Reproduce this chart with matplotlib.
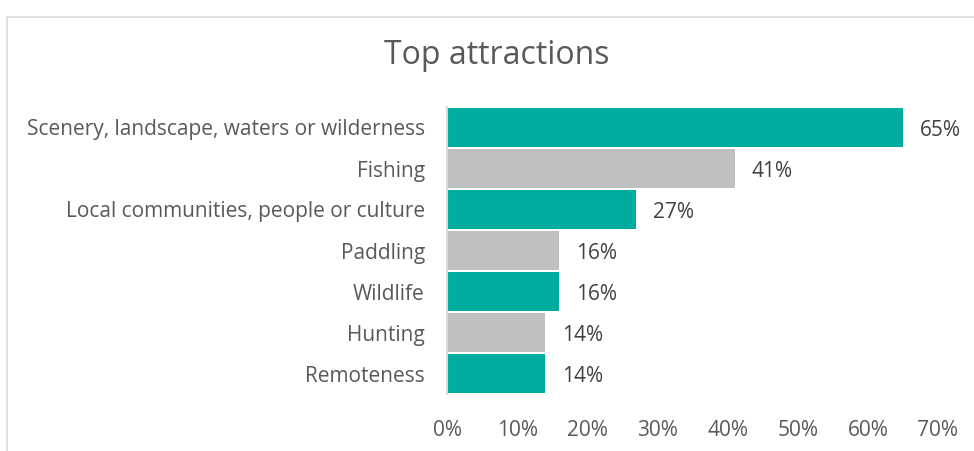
import matplotlib
matplotlib.use("Agg")
import matplotlib.pyplot as plt
from matplotlib.patches import Rectangle

categories = ["Scenery, landscape, waters or wilderness", "Fishing",
              "Local communities, people or culture", "Paddling",
              "Wildlife", "Hunting", "Remoteness"]
values = [65, 41, 27, 16, 16, 14, 14]
colors = ["#00AB9F", "#BFBFBF", "#00AB9F", "#BFBFBF", "#00AB9F", "#BFBFBF", "#00AB9F"]
xticks = [0, 10, 20, 30, 40, 50, 60, 70]
title = "Top attractions"

plt.rcParams['font.family'] = ['Open Sans', 'DejaVu Sans']

W, H = 974, 451
fig = plt.figure(figsize=(W / 100, H / 100), dpi=100)
ax = fig.add_axes([447 / W, 1 - 394 / H, (938 - 447) / W, (394 - 107) / H])

y = list(range(len(categories)))
ax.barh(y, values, height=0.93, color=colors, zorder=2)
ax.set_ylim(len(categories) - 0.5, -0.5)
ax.set_xlim(0, 70)
ax.set_yticks(y)
ax.set_yticklabels(categories, fontsize=15, color="#595959")
ax.set_xticks(xticks)
ax.set_xticklabels([f"{t}%" for t in xticks], fontsize=15, color="#595959")
ax.tick_params(axis="y", length=0, pad=16)
ax.tick_params(axis="x", length=0, pad=19)
for s in ["top", "right", "bottom"]:
    ax.spines[s].set_visible(False)
ax.spines["left"].set_color("#D9D9D9")
ax.spines["left"].set_linewidth(1.5)

for yi, v in zip(y, values):
    ax.annotate(f"{v}%", (v, yi), xytext=(12, -2.5), textcoords="offset points",
                va="center", ha="left", fontsize=15, color="#404040")

fig.text(497 / W, 1 - 56 / H, title, ha="center", va="center", fontsize=23, color="#595959")

fig.patches.append(Rectangle((7 / W, -0.05), 1.1, 1 - 17 / H + 0.05, transform=fig.transFigure,
                             fill=False, edgecolor="#D9D9D9", linewidth=1.2))

fig.savefig("out.png", dpi=100)
